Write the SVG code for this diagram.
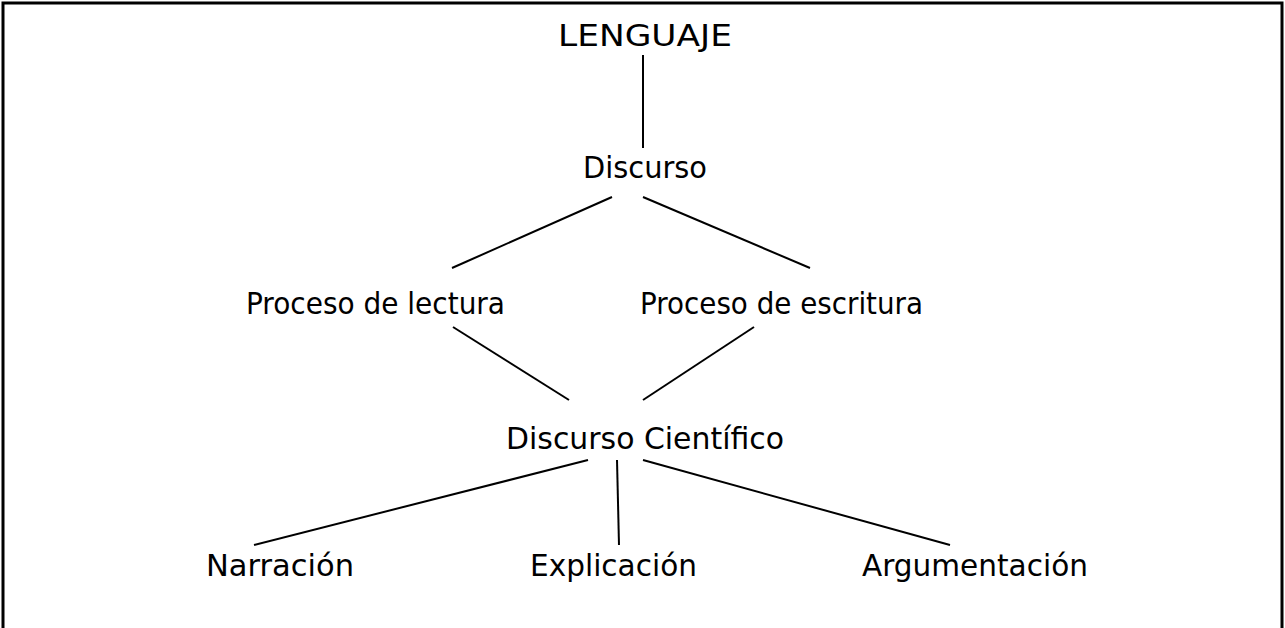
<svg xmlns="http://www.w3.org/2000/svg" width="1285" height="628" viewBox="0 0 1285 628">
<style>
.t{font-family:"DejaVu Sans","Liberation Sans",sans-serif;font-size:31px;fill:#000;text-anchor:start}
.c{stroke:#000;stroke-width:2;fill:none}
.b{stroke:#000;stroke-width:3;fill:none}
</style>
<rect width="1285" height="628" fill="#fff"/>
<path class="b" d="M3,640 V3 H1282 V640"/>
<g id="connectors">
<line class="c" x1="643" y1="55" x2="643" y2="148"/>
<line class="c" x1="612" y1="197" x2="452" y2="268"/>
<line class="c" x1="643" y1="197" x2="810" y2="268"/>
<line class="c" x1="453" y1="327" x2="569" y2="400"/>
<line class="c" x1="754" y1="327" x2="643" y2="400"/>
<line class="c" x1="588" y1="460" x2="254" y2="545"/>
<line class="c" x1="617" y1="460" x2="619" y2="545"/>
<line class="c" x1="643" y1="460" x2="950" y2="545"/>
</g>
<g id="lenguaje"><text class="t" x="558" y="46" textLength="174" lengthAdjust="spacingAndGlyphs">LENGUAJE</text></g>
<g id="discurso"><text class="t" x="583" y="178" textLength="124" lengthAdjust="spacingAndGlyphs">Discurso</text></g>
<g id="lectura"><text class="t" x="246" y="314" textLength="259" lengthAdjust="spacingAndGlyphs">Proceso de lectura</text></g>
<g id="escritura"><text class="t" x="640" y="314" textLength="283" lengthAdjust="spacingAndGlyphs">Proceso de escritura</text></g>
<g id="cientifico"><text class="t" x="506" y="449" textLength="278" lengthAdjust="spacingAndGlyphs">Discurso Científico</text></g>
<g id="narracion"><text class="t" x="206" y="576" textLength="148" lengthAdjust="spacingAndGlyphs">Narración</text></g>
<g id="explicacion"><text class="t" x="530" y="576" textLength="167" lengthAdjust="spacingAndGlyphs">Explicación</text></g>
<g id="argumentacion"><text class="t" x="862" y="576" textLength="226" lengthAdjust="spacingAndGlyphs">Argumentación</text></g>
</svg>
